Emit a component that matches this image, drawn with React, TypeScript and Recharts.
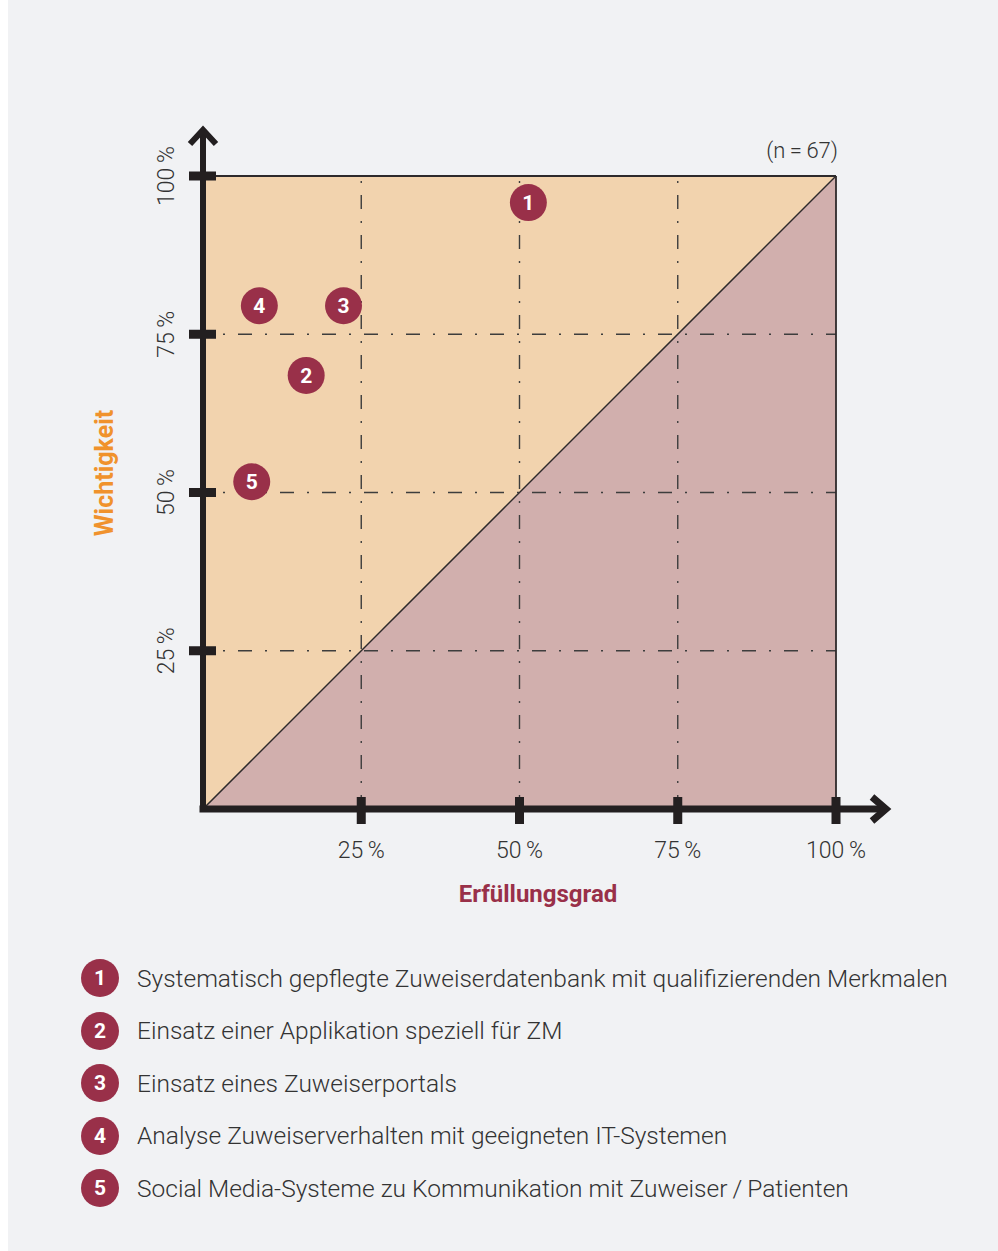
import React from 'react';
import { ComposedChart, Area, Scatter, XAxis, YAxis, CartesianGrid, ReferenceLine } from 'recharts';

const AXIS_TICKS = [0, 25, 50, 75, 100];
const GRID_VALUES = [25, 50, 75];
const BORDER_VALUE = 100;
const DIAGONAL_X = [0, 100];
const DIAGONAL_Y = [0, 100];

const ITEM_IDS = [1, 2, 3, 4, 5];
const ITEM_LABELS = [
  'Systematisch gepflegte Zuweiserdatenbank mit qualifizierenden Merkmalen',
  'Einsatz einer Applikation speziell für ZM',
  'Einsatz eines Zuweiserportals',
  'Analyse Zuweiserverhalten mit geeigneten IT-Systemen',
  'Social Media-Systeme zu Kommunikation mit Zuweiser\u2009/\u2009Patienten',
];
// Erfüllungsgrad (x) und Wichtigkeit (y) in %
const FULFILMENT = [51.4, 16.3, 22.2, 8.9, 7.7];
const IMPORTANCE = [95.8, 68.5, 79.5, 79.5, 51.7];
const SAMPLE_SIZE = 67;

const PEACH = '#f2d3ae';
const MAUVE = '#d1afad';
const MAROON = '#993049';
const ORANGE = '#f0922c';
const INK = '#231f20';
const TEXT = '#333333';
const GRID = '#3d3d3d';
const FONT = 'Roboto, "Open Sans", sans-serif';

const diagonal = DIAGONAL_X.map((x, i) => ({ x, y: DIAGONAL_Y[i] }));
const items = ITEM_IDS.map((id, i) => ({ id, x: FULFILMENT[i], y: IMPORTANCE[i] }));

const pct = (v: number) => `${v}\u2009%`;

function XTick({ x, y, payload }: any) {
  const v = payload.value;
  if (v === 0) return null;
  return (
    <g>
      {v === 100 && (
        <>
          <line x1={x} y1={y} x2={x + 50} y2={y} stroke={INK} strokeWidth={7} />
          <polyline
            points={`${x + 36},${y - 12} ${x + 50},${y} ${x + 36},${y + 12}`}
            fill="none"
            stroke={INK}
            strokeWidth={7}
            strokeLinejoin="miter"
          />
        </>
      )}
      <rect x={x - 4.5} y={y - 12} width={9} height={27} fill={INK} />
      <text x={x} y={y + 49} textAnchor="middle" fill={TEXT} fontSize={23} fontWeight={300} fontFamily={FONT}>
        {pct(v)}
      </text>
    </g>
  );
}

function YTick({ x, y, payload }: any) {
  const v = payload.value;
  if (v === 0) return null;
  return (
    <g>
      {v === 100 && (
        <>
          <line x1={x} y1={y} x2={x} y2={y - 46} stroke={INK} strokeWidth={6} />
          <polyline
            points={`${x - 13},${y - 32} ${x},${y - 46} ${x + 13},${y - 32}`}
            fill="none"
            stroke={INK}
            strokeWidth={6}
            strokeLinejoin="miter"
          />
        </>
      )}
      <rect x={x - 14} y={y - 4.5} width={27} height={9} fill={INK} />
      <text
        x={x - 29}
        y={y}
        transform={`rotate(-90 ${x - 29} ${y})`}
        textAnchor="middle"
        fill={TEXT}
        fontSize={23}
        fontWeight={300}
        fontFamily={FONT}
      >
        {pct(v)}
      </text>
    </g>
  );
}

function Badge({ cx, cy, payload }: any) {
  return (
    <g>
      <circle cx={cx} cy={cy} r={18.5} fill={MAROON} />
      <text x={cx} y={cy} dy="0.36em" textAnchor="middle" fill="#fff" fontSize={21} fontWeight={700} fontFamily={FONT}>
        {payload.id}
      </text>
    </g>
  );
}

export default function App() {
  return (
    <div style={{ position: 'absolute', left: 8, top: 0, width: 990, height: 1251, background: '#f1f2f4', fontFamily: FONT }}>
      <div style={{ position: 'absolute', left: 0, top: 0 }}>
        <ComposedChart width={990} height={940} data={diagonal} margin={{ top: 176, right: 162, bottom: 130, left: 194 }}>
          <CartesianGrid horizontal={false} vertical={false} fill={PEACH} />
          <Area
            type="linear"
            dataKey="y"
            fill={MAUVE}
            fillOpacity={1}
            stroke="#2e2a2b"
            strokeWidth={1.5}
            isAnimationActive={false}
          />
          {GRID_VALUES.map((v) => (
            <ReferenceLine
              key={`h${v}`}
              y={v}
              stroke={GRID}
              strokeWidth={1.4}
              strokeDasharray="14 13 2 13"
              strokeDashoffset={7}
            />
          ))}
          {GRID_VALUES.map((v) => (
            <ReferenceLine key={`v${v}`} x={v} stroke={GRID} strokeWidth={1.4} strokeDasharray="14 12 2 12" />
          ))}
          <ReferenceLine y={BORDER_VALUE} stroke="#2e2a2b" strokeWidth={1.8} />
          <ReferenceLine x={BORDER_VALUE} stroke="#2e2a2b" strokeWidth={1.8} />
          <XAxis
            dataKey="x"
            type="number"
            domain={[0, 100]}
            ticks={AXIS_TICKS}
            height={1}
            tickLine={false}
            tickSize={0}
            tickMargin={0}
            tick={<XTick />}
            axisLine={{ stroke: INK, strokeWidth: 7, strokeLinecap: 'square' }}
          />
          <YAxis
            type="number"
            domain={[0, 100]}
            ticks={AXIS_TICKS}
            width={1}
            tickLine={false}
            tickSize={0}
            tickMargin={0}
            tick={<YTick />}
            axisLine={{ stroke: INK, strokeWidth: 6, strokeLinecap: 'square' }}
          />
          <Scatter data={items} dataKey="y" shape={<Badge />} isAnimationActive={false} />
        </ComposedChart>
      </div>

      <svg width={990} height={940} style={{ position: 'absolute', left: 0, top: 0, pointerEvents: 'none' }}>
        <text x={830} y={158} textAnchor="end" fill={TEXT} fontSize={22} fontWeight={300} fontFamily={FONT}>
          {`(n\u2009=\u2009${SAMPLE_SIZE})`}
        </text>
        <text
          x={105}
          y={473}
          transform="rotate(-90 105 473)"
          textAnchor="middle"
          fill={ORANGE}
          fontSize={25}
          fontWeight={700}
          fontFamily={FONT}
        >
          Wichtigkeit
        </text>
        <text x={530} y={902} textAnchor="middle" fill={MAROON} fontSize={24} fontWeight={700} fontFamily={FONT}>
          Erfüllungsgrad
        </text>
      </svg>

      <div style={{ position: 'absolute', left: 73, top: 952 }}>
        {ITEM_IDS.map((id, i) => (
          <div key={id} style={{ display: 'flex', alignItems: 'center', height: 52.5 }}>
            <div
              style={{
                width: 38,
                height: 38,
                borderRadius: '50%',
                background: MAROON,
                color: '#fff',
                fontWeight: 700,
                fontSize: 21,
                display: 'flex',
                alignItems: 'center',
                justifyContent: 'center',
              }}
            >
              {id}
            </div>
            <div style={{ marginLeft: 18, fontSize: 24.5, fontWeight: 300, color: TEXT, whiteSpace: 'nowrap' }}>
              {ITEM_LABELS[i]}
            </div>
          </div>
        ))}
      </div>
    </div>
  );
}
